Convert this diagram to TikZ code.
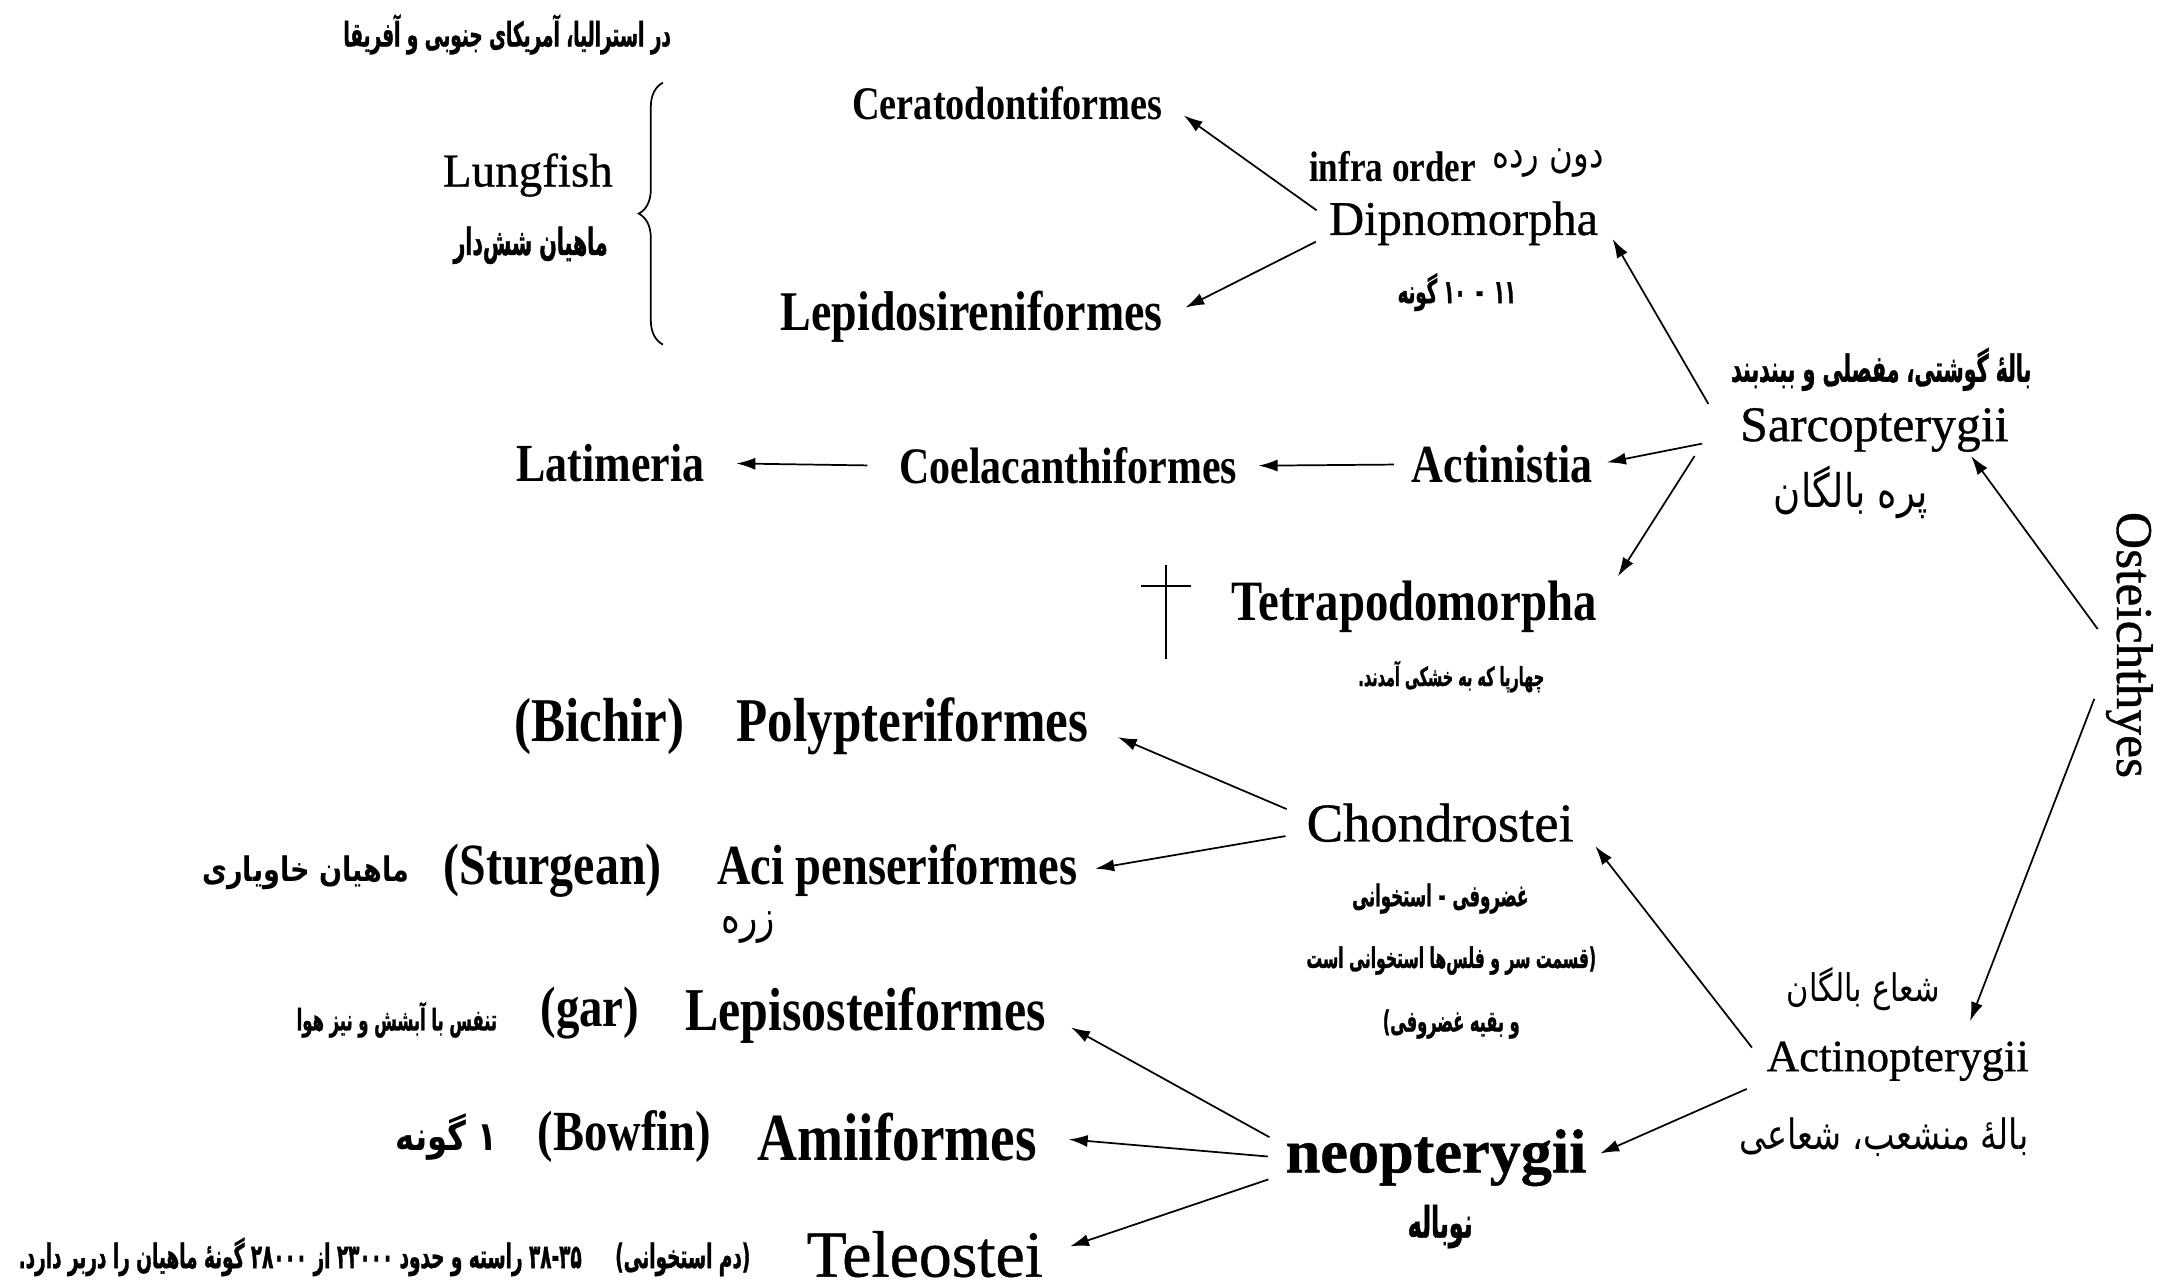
\documentclass[tikz,border=0pt]{standalone}
\usepackage{fontspec}
\setmainfont{Liberation Serif}[FakeBold=0.7]
\newfontfamily\latb{Liberation Serif}[FakeStretch=0.82]
\newfontfamily\fa[Script=Arabic,FakeStretch=0.55,FakeBold=1]{DejaVu Sans}
\newfontfamily\fb[Script=Arabic,FakeStretch=0.8]{DejaVu Sans}
\TeXXeTstate=1
\usetikzlibrary{arrows.meta,positioning,decorations.pathreplacing}
\tikzset{
  % Define standard arrow tip
  >={Latex[length=5.5pt,width=3.5pt]},
  % Latin names
  lat/.style={inner sep=1pt, font=\fontsize{#1}{#1}\selectfont},
  latbold/.style={inner sep=1pt, font=\latb\bfseries\fontsize{#1}{#1}\selectfont},
  % Persian notes
  fabold/.style={inner sep=1pt, font=\fa\bfseries\fontsize{#1}{#1}\selectfont},
  fareg/.style={inner sep=1pt, font=\fb\fontsize{#1}{#1}\selectfont},
  % Define arrow style
  arrow/.style={->, line width=0.5pt},
}
\begin{document}
\begin{tikzpicture}[x=0.014cm, y=-0.014cm]
  \useasboundingbox (0,0) rectangle (1568,933);
  % lungfish group
  \node[fabold=9.7] (region) at (368,25) {\beginR در استرالیا، آمریکای جنوبی و آفریقا\endR};
  \node[lat=13.6] (lung) at (383,127) {Lungfish};
  \node[fabold=10.8] (lungfa) at (385,178) {\beginR ماهیان شش‌دار\endR};
  \node[latbold=13.5] (cerato) at (731,75) {Ceratodontiformes};
  \node[latbold=16.2] (lepido) at (705,230) {Lepidosireniformes};
  \coordinate (brtop) at (481,60);
  \coordinate (brbot) at (481,250);
  \draw[line width=0.5pt, decorate, decoration={brace, amplitude=7pt}] (brbot) -- (brtop);
  % sarcopterygii side
  \node[latbold=12.4, anchor=east] (infra) at (1074,121) {infra order};
  \node[fareg=11.7, anchor=west] (infrafa) at (1080,118) {\beginR دون رده\endR};
  \node[lat=14] (dipno) at (1062,162) {Dipnomorpha};
  \node[fabold=9.5] (dipnofa) at (1057,212) {\beginR ۱۱\hspace{3pt}-\hspace{3pt}۱۰ گونه\endR};
  \node[fabold=10.8] (sarcofa) at (1365,268) {\beginR بالهٔ گوشتی، مفصلی و ببندبند\endR};
  \node[lat=14.4] (sarco) at (1360,312) {Sarcopterygii};
  \node[fareg=13.4] (sarcofb) at (1343,357) {\beginR پره بالگان\endR};
  \node[lat=14.9, rotate=-90] (oste) at (1545,468) {Osteichthyes};
  \node[latbold=15.5] (actin) at (1090,337) {Actinistia};
  \node[latbold=14.8] (coel) at (775,338) {Coelacanthiformes};
  \node[latbold=15.5] (lati) at (443,336) {Latimeria};
  \node[latbold=16.5] (tetra) at (1026,440) {Tetrapodomorpha};
  \node[fabold=7.6] (tetrafa) at (1053,491) {\beginR چهارپا که به خشکی آمدند.\endR};
  % extinct mark
  \draw[line width=0.5pt] (846,410) -- (846,478);
  \draw[line width=0.5pt] (828,425) -- (864,425);
  % actinopterygii side
  \node[latbold=18] (poly) at (662,527) {Polypteriformes};
  \node[latbold=18] (bichir) at (435,527) {(Bichir)};
  \node[lat=15.8] (chondro) at (1045,597) {Chondrostei};
  \node[fabold=8.7] (chondrofa) at (1045,652) {\beginR غضروفی\hspace{2pt}-\hspace{2pt}استخوانی\endR};
  \node[fabold=8.2] (chondrofb) at (1053,697) {\beginR (قسمت سر و فلس‌ها استخوانی است\endR};
  \node[fabold=8.5] (chondrofc) at (1053,743) {\beginR و بقیه غضروفی)\endR};
  \node[latbold=16.4] (aci) at (651,632) {Aci penseriformes};
  \node[latbold=16.9] (sturg) at (401,632) {(Sturgean)};
  \node[fareg=9.8] (sturgfa) at (222,633) {\bfseries\beginR ماهیان خاویاری\endR};
  \node[fareg=13] (acifa) at (543,673) {\beginR زره\endR};
  \node[latbold=17.6] (lepis) at (628,737) {Lepisosteiformes};
  \node[latbold=16.5] (gar) at (428,735) {(gar)};
  \node[fabold=8.6] (garfa) at (288,740) {\beginR تنفس با آبشش و نیز هوا\endR};
  \node[latbold=19.5] (amii) at (651,825) {Amiiformes};
  \node[latbold=16.4] (bowfin) at (453,825) {(Bowfin)};
  \node[fareg=11.7] (bowfinfa) at (324,825) {\bfseries\beginR ۱ گونه\endR};
  \node[lat=18] (neo) at (1042,840) {\bfseries neopterygii};
  \node[fabold=12.5] (neofa) at (1045,890) {\beginR نوباله\endR};
  \node[fareg=11] (actinofa) at (1352,718) {\beginR شعاع بالگان\endR};
  \node[lat=13] (actino) at (1377,770) {Actinopterygii};
  \node[fareg=12.1] (actinofb) at (1367,825) {\beginR بالهٔ منشعب، شعاعی\endR};
  \node[lat=19] (tele) at (671,910) {Teleostei};
  \node[fabold=9.7] (telefa) at (279,912) {\beginR (دم استخوانی)\quad \beginL۳۸-۳۵\endL{} راسته و حدود ۲۳۰۰۰ از ۲۸۰۰۰ گونهٔ ماهیان را دربر دارد.\endR};
  % arrows
  \draw[arrow, shorten <=3pt, shorten >=6pt] ([yshift=2pt]dipno.west) -- (cerato.east);
  \draw[arrow, shorten <=3pt, shorten >=6pt] ([yshift=-4pt]dipno.west) -- (lepido.east);
  \draw[arrow] ([xshift=-8pt]sarco.north west) -- ([xshift=3pt,yshift=3pt]dipno.south east);
  \draw[arrow, shorten <=10pt, shorten >=3pt] ([yshift=-2pt]sarco.west) -- (actin.east);
  \draw[arrow] ([xshift=-12pt]sarco.south west) -- ([xshift=5pt]tetra.north east);
  \draw[arrow, shorten <=4pt, shorten >=5pt] (actin.west) -- (coel.east);
  \draw[arrow, shorten <=8pt, shorten >=8pt] (coel.west) -- (lati.east);
  \draw[arrow, shorten <=2pt] ([yshift=3pt]oste.south) -- ([xshift=-12pt]sarco.south east);
  \draw[arrow, shorten <=6pt, shorten >=5pt] ([yshift=-10pt]oste.south) -- ([xshift=-20pt]actino.north east);
  \draw[arrow, shorten <=5pt] (actino.west) -- ([xshift=5pt]chondro.south east);
  \draw[arrow, shorten <=5pt, shorten >=3pt] ([yshift=-6pt]actino.west) -- (neo.east);
  \draw[arrow, shorten <=5pt, shorten >=8pt] ([yshift=2pt]chondro.west) -- (poly.east);
  \draw[arrow, shorten <=5pt, shorten >=4pt] ([yshift=-3pt]chondro.west) -- (aci.east);
  \draw[arrow, shorten <=4pt, shorten >=7pt] ([yshift=4pt]neo.west) -- (lepis.east);
  \draw[arrow, shorten <=4pt, shorten >=8pt] (neo.west) -- (amii.east);
  \draw[arrow, shorten <=4pt, shorten >=7pt] ([yshift=-5pt]neo.west) -- (tele.east);
\end{tikzpicture}
\end{document}
